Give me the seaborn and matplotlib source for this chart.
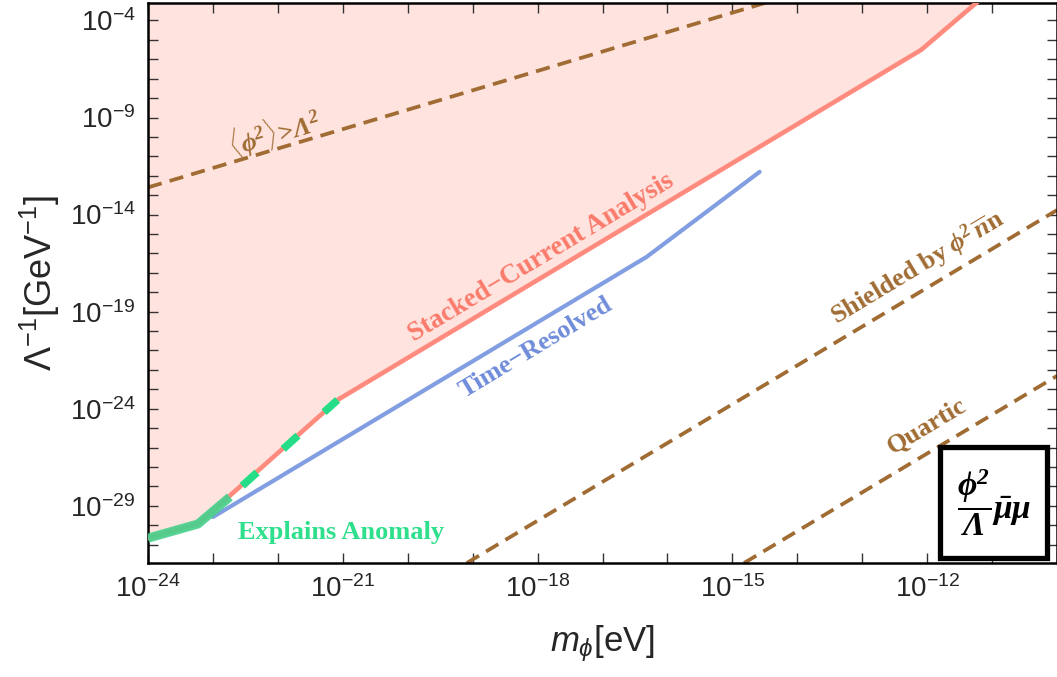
import matplotlib

matplotlib.use("Agg")
import matplotlib.pyplot as plt
import matplotlib.ticker as mticker
import numpy as np
import pandas as pd
import seaborn as sns
from matplotlib.patches import Rectangle

# log10 values
stacked_logm = [-24.0, -23.23, -21.08, -12.09, -11.0]
stacked_logl = [-30.67, -29.94, -23.55, -5.51, -2.4]

anomaly_solid_logm = [-24.0, -23.23, -22.74]
anomaly_solid_logl = [-30.67, -29.94, -28.55]
anomaly_dash_logm = [-22.74, -21.08]
anomaly_dash_logl = [-28.55, -23.55]

timeres_logm = [-23.0, -16.32, -14.58]
timeres_logl = [-29.58, -16.18, -11.8]

# brown dashed theory lines, endpoints (log10)
vev_logm = [-24.0, -10.0]
vev_logl = [-12.6, 1.4]
shield_logm = [-19.09, -10.0]
shield_logl = [-31.95, -13.77]
quartic_logm = [-14.82, -10.0]
quartic_logl = [-31.95, -22.31]

x_major = [-24, -21, -18, -15, -12]
y_major = [-29, -24, -19, -14, -9, -4]

PINK = "#FFE3DF"
RED = "#FF8B7E"
BLUE = "#819EE2"
GREEN = "#25DD86"
GREEN_SOLID = "#47D08C"
BROWN = "#A06C34"


def to_df(lm, ll):
    return pd.DataFrame({"m": 10.0 ** np.array(lm), "lam": 10.0 ** np.array(ll)})


sns.set_theme(style="ticks")
plt.rcParams["font.family"] = ["Liberation Sans", "DejaVu Sans"]
plt.rcParams["mathtext.fontset"] = "custom"
plt.rcParams["mathtext.rm"] = "Liberation Sans"
plt.rcParams["mathtext.it"] = "Liberation Sans:italic"
# bold math is only used for the in-plot labels -> Times-like bold italic
plt.rcParams["mathtext.bf"] = "Liberation Serif:bold:italic"

fig = plt.figure(figsize=(10.57, 6.77), dpi=100)
ax = fig.add_axes([148 / 1057, 1 - 563 / 677, 909 / 1057, 560 / 677])
ax.set_xscale("log")
ax.set_yscale("log")
ax.set_xlim(1e-24, 1e-10)
ax.set_ylim(10 ** -31.95, 10 ** -3.1)

st = to_df(stacked_logm, stacked_logl)
ax.fill_between(st["m"], st["lam"], 1e2, color=PINK, lw=0, zorder=0)

common = dict(ax=ax, x="m", y="lam", sort=False, estimator=None, legend=False)
sns.lineplot(data=st, color=RED, lw=3.3, zorder=3, **common)
sns.lineplot(data=to_df(timeres_logm, timeres_logl), color=BLUE, lw=3.0, zorder=3, **common)
sns.lineplot(data=to_df(anomaly_solid_logm, anomaly_solid_logl), color=GREEN_SOLID,
             lw=6.5, alpha=0.92, zorder=4, solid_capstyle="butt", **common)
dash_line = sns.lineplot(data=to_df(anomaly_dash_logm, anomaly_dash_logl), color=GREEN,
                         lw=5.5, zorder=4, **common).lines[-1]
dash_line.set_linestyle((5.0, (2.6, 4.6)))
dash_line.set_dash_capstyle("butt")

for lm, ll in [(vev_logm, vev_logl), (shield_logm, shield_logl), (quartic_logm, quartic_logl)]:
    ln = sns.lineplot(data=to_df(lm, ll), color=BROWN, lw=2.7, zorder=2, **common).lines[-1]
    ln.set_linestyle((0, (3.8, 2.2)))
    ln.set_dash_capstyle("butt")

# labels
serif = dict(family=["Liberation Serif", "DejaVu Serif"], fontweight="bold",
             ha="center", va="center", zorder=6)
ax.text(10 ** -22.05, 10 ** -9.8,
        r"$\mathbf{\langle\phi^2\rangle\!>\!\Lambda^2}$", color=BROWN,
        fontsize=19, rotation=16.5, **serif)
ax.text(10 ** -17.95, 10 ** -16.2, "Stacked\u2212Current Analysis", color="#FA7B6B",
        fontsize=19.5, rotation=31, **serif)
ax.text(10 ** -18.02, 10 ** -20.87, "Time\u2212Resolved", color="#6F8CDA",
        fontsize=19, rotation=31, **serif)
ax.text(10 ** -21.03, 10 ** -30.36, "Explains Anomaly", color="#2EDF8C",
        fontsize=19, **serif)
ax.text(10 ** -12.15, 10 ** -16.75,
        r"Shielded by $\mathbf{\phi^2\,\overline{n}}$n", color=BROWN,
        fontsize=19, rotation=31, **serif)
ax.text(10 ** -12.0, 10 ** -24.89, "Quartic", color=BROWN,
        fontsize=19, rotation=31, **serif)

# operator box
box = Rectangle((792 / 909, 5 / 560), 107 / 909, 111 / 560, transform=ax.transAxes,
                fill=True, facecolor="white", edgecolor="black", lw=3.8, zorder=7)
ax.add_patch(box)
ax.text(846 / 909, 60 / 560, r"$\mathbf{\dfrac{\phi^2}{\Lambda}\bar{\mu}\mu}$",
        transform=ax.transAxes, ha="center", va="center", fontsize=24,
        color="black", zorder=8)

# ticks
ax.xaxis.set_major_locator(mticker.FixedLocator([10.0 ** v for v in x_major]))
ax.xaxis.set_minor_locator(mticker.LogLocator(base=10, subs=(1.0,), numticks=100))
ax.yaxis.set_major_locator(mticker.FixedLocator([10.0 ** v for v in y_major]))
ax.yaxis.set_minor_locator(mticker.LogLocator(base=10, subs=(1.0,), numticks=100))
fmt = mticker.FuncFormatter(lambda v, p: r"$10^{%d}$" % round(np.log10(v)))
ax.xaxis.set_major_formatter(fmt)
ax.yaxis.set_major_formatter(fmt)
ax.xaxis.set_minor_formatter(mticker.NullFormatter())
ax.yaxis.set_minor_formatter(mticker.NullFormatter())
ax.tick_params(which="both", direction="in", top=True, right=True, width=1.0,
               color="#333333", labelsize=20, pad=9)
ax.tick_params(which="major", length=7)
ax.tick_params(which="minor", length=7)
for s in ax.spines.values():
    s.set_linewidth(1.8)
    s.set_color("black")

ax.set_xlabel(r"$m_\phi$[eV]", fontsize=25, labelpad=14)
ax.set_ylabel(r"$\Lambda^{-1}$[GeV$^{-1}$]", fontsize=26, labelpad=6)

fig.savefig("out.png", dpi=100)
